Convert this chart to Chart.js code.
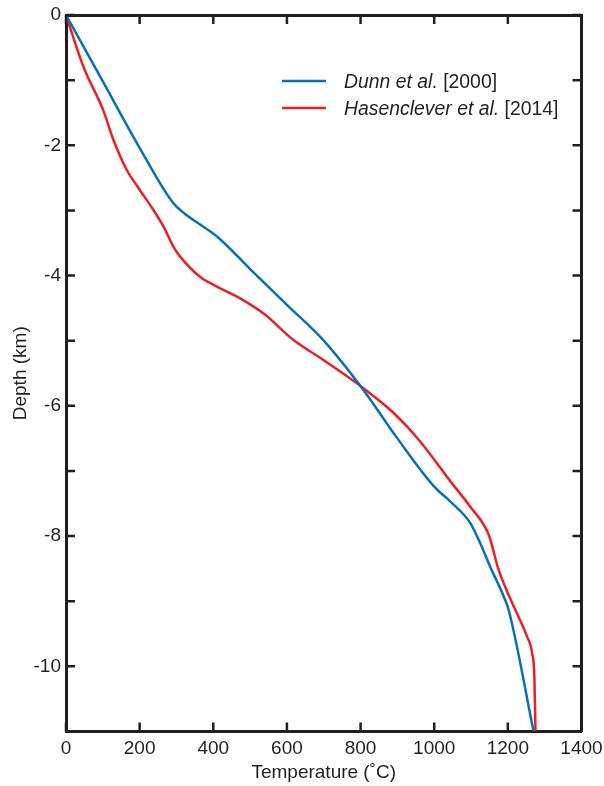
<!DOCTYPE html>
<html>
<head>
<meta charset="utf-8">
<script src="https://cdn.jsdelivr.net/npm/chart.js@4"></script>
<style>
  html, body { margin: 0; padding: 0; background: #fff; }
  #wrap { width: 604px; height: 786px; }
</style>
</head>
<body>
<div id="wrap"><canvas id="profileChart" width="604" height="786"></canvas></div>
<script>
// Temperature (°C) vs depth (km) profiles
const dunnTemp = [0, 100, 196, 290, 320, 365, 410, 500, 600, 700, 808, 900, 1000, 1044, 1098, 1125, 1152, 1189, 1203, 1270];
const dunnDepth = [0, -1.02, -2.0, -2.88, -3.04, -3.22, -3.4, -3.9, -4.45, -5.0, -5.76, -6.5, -7.24, -7.47, -7.8, -8.11, -8.47, -8.93, -9.15, -11.0];

const hasTemp = [0, 47, 101, 129, 165, 201, 237, 265, 292, 310, 364, 410, 482, 536, 618, 700, 808, 890, 958, 1044, 1098, 1148, 1175, 1198, 1229, 1252, 1266, 1272, 1275];
const hasDepth = [0, -0.79, -1.46, -1.92, -2.38, -2.69, -2.99, -3.25, -3.56, -3.71, -4.02, -4.17, -4.38, -4.58, -4.99, -5.3, -5.73, -6.11, -6.52, -7.16, -7.55, -7.98, -8.52, -8.85, -9.24, -9.54, -9.8, -10.16, -11.0];

const xTicks = [0, 200, 400, 600, 800, 1000, 1200, 1400];
const yTicks = [0, -1, -2, -3, -4, -5, -6, -7, -8, -9, -10, -11];
const yLabels = [0, -2, -4, -6, -8, -10];

const BLUE = "rgb(10, 111, 186)";
const RED = "rgb(236, 30, 38)";
const INK = "#231f20";
const FONT = "'Liberation Sans', Arial, Helvetica, sans-serif";

const toPoints = (xs, ys) => xs.map((x, i) => ({ x: x, y: ys[i] }));

// inward tick marks on all four sides
const insideTicks = {
  id: "insideTicks",
  afterDraw(chart) {
    const { ctx, chartArea: a, scales } = chart;
    const len = 9;
    ctx.save();
    ctx.strokeStyle = INK;
    ctx.lineWidth = 2.5;
    ctx.beginPath();
    xTicks.forEach((v) => {
      const px = scales.x.getPixelForValue(v);
      ctx.moveTo(px, a.bottom); ctx.lineTo(px, a.bottom - len);
      ctx.moveTo(px, a.top); ctx.lineTo(px, a.top + len);
    });
    yTicks.forEach((v) => {
      const py = scales.y.getPixelForValue(v);
      ctx.moveTo(a.left, py); ctx.lineTo(a.left + len, py);
      ctx.moveTo(a.right, py); ctx.lineTo(a.right - len, py);
    });
    ctx.stroke();
    ctx.restore();
  },
};

// legend with italic author names
const legendEntries = [
  { color: BLUE, italic: "Dunn et al.", plain: " [2000]" },
  { color: RED, italic: "Hasenclever et al.", plain: " [2014]" },
];
const mixedLegend = {
  id: "mixedLegend",
  afterDraw(chart) {
    const ctx = chart.ctx;
    ctx.save();
    legendEntries.forEach((e, i) => {
      const y = 81 + i * 27;
      ctx.strokeStyle = e.color;
      ctx.lineWidth = 2.5;
      ctx.beginPath();
      ctx.moveTo(282, y);
      ctx.lineTo(326, y);
      ctx.stroke();
      ctx.fillStyle = INK;
      ctx.textBaseline = "alphabetic";
      ctx.font = "italic 19.4px " + FONT;
      ctx.fillText(e.italic, 344, y + 7);
      const w = ctx.measureText(e.italic).width;
      ctx.font = "19.4px " + FONT;
      ctx.fillText(e.plain, 344 + w, y + 7);
    });
    ctx.restore();
  },
};

// fixed axis band sizes, no extra room for overhanging end labels
const fixedSize = (size) => (scale) => {
  if (scale.isHorizontal()) scale.height = size;
  else scale.width = size;
  scale.paddingLeft = 0;
  scale.paddingRight = 0;
  scale.paddingTop = 0;
  scale.paddingBottom = 0;
};

const plainTick = (v) => String(v);

new Chart(document.getElementById("profileChart"), {
  type: "scatter",
  data: {
    datasets: [
      {
        label: "Dunn et al. [2000]",
        data: toPoints(dunnTemp, dunnDepth),
        showLine: true,
        borderColor: BLUE,
        borderWidth: 2.5,
        pointRadius: 0,
        cubicInterpolationMode: "monotone",
      },
      {
        label: "Hasenclever et al. [2014]",
        data: toPoints(hasTemp, hasDepth),
        showLine: true,
        borderColor: RED,
        borderWidth: 2.5,
        pointRadius: 0,
        cubicInterpolationMode: "monotone",
      },
    ],
  },
  options: {
    responsive: false,
    animation: false,
    layout: { padding: 0 },
    plugins: {
      legend: { display: false },
      tooltip: { enabled: false },
    },
    scales: {
      x: {
        type: "linear",
        position: "bottom",
        min: 0,
        max: 1400,
        afterBuildTicks: (s) => { s.ticks = xTicks.map((v) => ({ value: v })); },
        afterFit: fixedSize(54.5),
        grid: { display: false, drawTicks: false },
        border: { display: true, color: INK, width: 3 },
        ticks: { color: INK, font: { family: FONT, size: 19 }, padding: 6, maxRotation: 0, callback: plainTick },
        title: {
          display: true,
          text: "Temperature (˚C)",
          color: INK,
          font: { family: FONT, size: 19 },
          padding: { top: 0, bottom: 2 },
        },
      },
      x2: {
        type: "linear",
        position: "top",
        min: 0,
        max: 1400,
        afterFit: fixedSize(15),
        grid: { display: false, drawTicks: false },
        border: { display: true, color: INK, width: 3 },
        ticks: { display: false },
      },
      y: {
        type: "linear",
        position: "left",
        min: -11,
        max: 0,
        afterBuildTicks: (s) => { s.ticks = yLabels.map((v) => ({ value: v })); },
        afterFit: fixedSize(66),
        grid: { display: false, drawTicks: false },
        border: { display: true, color: INK, width: 3 },
        ticks: { color: INK, font: { family: FONT, size: 19 }, padding: 5, callback: plainTick },
        title: {
          display: true,
          text: "Depth (km)",
          color: INK,
          font: { family: FONT, size: 19 },
          padding: { top: 9, bottom: 0 },
        },
      },
      y2: {
        type: "linear",
        position: "right",
        min: -11,
        max: 0,
        afterFit: fixedSize(22.5),
        grid: { display: false, drawTicks: false },
        border: { display: true, color: INK, width: 3 },
        ticks: { display: false },
      },
    },
  },
  plugins: [insideTicks, mixedLegend],
});
</script>
</body>
</html>
